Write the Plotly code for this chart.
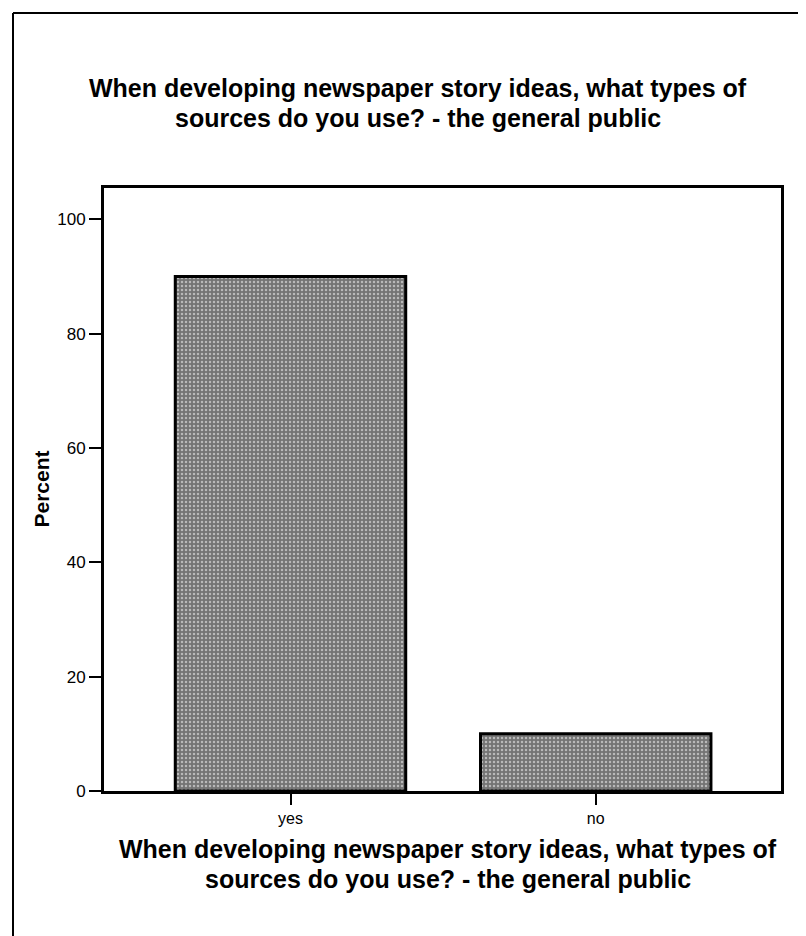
import plotly.graph_objects as go

categories = ["yes", "no"]
percent_values = [90.0, 10.0]
y_tick_values = [0, 20, 40, 60, 80, 100]
title_lines = ["When developing newspaper story ideas, what types of",
               "sources do you use? - the general public"]
y_title = "Percent"

W, H = 806, 936
L, R, T, B = 96, 33, 180, 153
PW, PH = W - L - R, H - T - B

def px_x(x):
    return (x - L) / PW

def px_y(y):
    return 1 - (y - T) / PH

FONT = "Arial, Liberation Sans, Helvetica, sans-serif"

fig = go.Figure()
fig.add_trace(go.Bar(
    x=categories,
    y=percent_values,
    width=0.755,
    marker=dict(
        color="#8a8a8a",
        line=dict(color="black", width=3),
        pattern=dict(shape=".", fgcolor="white", bgcolor="#747474", size=4, solidity=0.3),
    ),
    showlegend=False,
))

annotations = []
for i, line in enumerate(title_lines):
    annotations.append(dict(text="<b>" + line + "</b>", xref="paper", yref="paper",
                            x=px_x(410), y=px_y(80 + 30 * i), xanchor="center", yanchor="middle",
                            showarrow=False, font=dict(size=25, family=FONT, color="black")))
    annotations.append(dict(text="<b>" + line + "</b>", xref="paper", yref="paper",
                            x=px_x(440), y=px_y(841 + 30 * i), xanchor="center", yanchor="middle",
                            showarrow=False, font=dict(size=25, family=FONT, color="black")))
annotations.append(dict(text="<b>" + y_title + "</b>", xref="paper", yref="paper",
                        x=px_x(33), y=0.5, xanchor="center", yanchor="middle", textangle=-90,
                        showarrow=False, font=dict(size=21, family=FONT, color="black")))

fig.update_layout(
    width=W, height=H,
    margin=dict(l=L, r=R, t=T, b=B),
    paper_bgcolor="white",
    plot_bgcolor="white",
    font=dict(family=FONT, color="black"),
    xaxis=dict(
        type="category",
        range=[-0.611, 1.607],
        showline=True, linecolor="black", linewidth=3, mirror=True,
        ticks="outside", ticklen=11, tickwidth=2, tickcolor="black",
        tickfont=dict(size=16, family=FONT, color="black"),
        showgrid=False, zeroline=False,
    ),
    yaxis=dict(
        range=[0, 105.5],
        tickvals=y_tick_values,
        showline=True, linecolor="black", linewidth=3, mirror=True,
        ticks="outside", ticklen=12, tickwidth=2, tickcolor="black",
        tickfont=dict(size=17, family=FONT, color="black"),
        showgrid=False, zeroline=False,
    ),
    annotations=annotations,
    shapes=[
        dict(type="line", xref="paper", yref="paper",
             x0=px_x(5), x1=px_x(802), y0=px_y(5), y1=px_y(5),
             line=dict(color="black", width=2)),
        dict(type="line", xref="paper", yref="paper",
             x0=px_x(5), x1=px_x(5), y0=px_y(5), y1=px_y(936),
             line=dict(color="black", width=2)),
        dict(type="line", xref="paper", yref="paper",
             x0=px_x(802), x1=px_x(802), y0=px_y(5), y1=px_y(936),
             line=dict(color="black", width=1.5)),
    ],
)

fig.write_html("out.html")
